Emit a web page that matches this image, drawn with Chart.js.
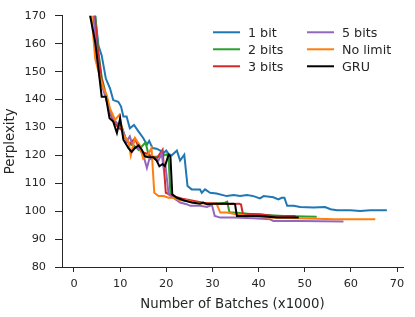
<!DOCTYPE html>
<html>
<head>
<meta charset="utf-8">
<script src="https://cdn.jsdelivr.net/npm/chart.js@4.4.1/dist/chart.umd.min.js"></script>
<style>
  html, body { margin: 0; padding: 0; background: #fff; }
  #wrap { width: 415px; height: 317px; }
</style>
</head>
<body>
<div id="wrap"><canvas id="perplexityChart" width="415" height="317"></canvas></div>
<script>
// values: [batches (x1000), perplexity]
const oneBit = [[3.8,180],[4.6,170],[5.3,159.3],[6.0,155.8],[6.9,147.5],[7.8,144],[8.5,139.8],[9.6,139.2],[10.2,137.5],[10.7,133.9],[11.4,133.9],[12.1,129.7],[13.0,130.9],[14.0,128.5],[15.0,126.2],[15.8,123.8],[16.3,125.2],[17.0,122.6],[17.9,122.4],[18.7,121.7],[19.4,120.8],[20.0,121.7],[20.5,120.5],[21.2,120],[22.3,121.7],[23.0,118.1],[23.9,120.2],[24.6,109],[25.5,107.8],[27.3,107.8],[27.7,106.6],[28.4,107.8],[29.5,106.6],[30.9,106.3],[33.1,105.4],[34.6,105.8],[36.0,105.4],[37.5,105.8],[38.9,105.4],[40.3,104.6],[41.1,105.4],[43.2,105],[44.3,104.2],[45.0,104.8],[45.6,104.8],[46.2,101.9],[47.6,101.9],[49.0,101.5],[51.9,101.3],[54.4,101.5],[55.6,100.7],[57.0,100.3],[59.9,100.3],[62.0,100.1],[64.2,100.3],[67.8,100.3]];
const twoBits = [[3.8,180],[4.6,170],[5.3,157],[6.0,148],[6.9,142],[7.8,136],[8.7,132],[9.6,131],[10.4,130],[11.2,126],[12.0,124],[13.0,123.5],[14.0,122],[15.5,124.6],[16.2,120],[17.2,119.5],[18.7,119.5],[20.1,120.4],[20.5,119],[20.9,106],[22.0,104.8],[23.5,104],[25.5,103.4],[27.5,103],[30.0,102.7],[32.5,102.9],[33.2,103.4],[33.7,99.5],[34.6,99.5],[38.9,98.9],[45.4,98.3],[52.6,98]];
const threeBits = [[3.8,180],[4.5,170],[5.2,157],[6.0,147],[6.9,141],[7.8,135],[8.7,132],[9.6,130],[10.4,129],[11.2,126],[12.0,124],[13.2,126],[14.0,123],[15.0,121],[16.0,120.5],[17.0,119.5],[18.0,119],[19.2,122],[19.9,106.6],[21.5,105.4],[23.5,104.5],[25.5,103.8],[28.0,103],[31.0,102.7],[34.0,102.6],[35.8,102.7],[36.2,102.4],[36.6,99.1],[40.3,98.9],[43.2,98.3],[48.0,98.3]];
const fiveBits = [[3.4,180],[4.2,170],[4.9,157],[5.6,147.5],[6.7,141.6],[7.8,135.6],[8.5,133.3],[9.6,130.9],[10.3,130.3],[11.4,125],[12.1,126.8],[12.9,122.6],[14.0,122.6],[15.0,120.2],[15.8,115.5],[16.3,118.5],[17.2,119],[18.3,118.1],[19.0,120.8],[19.4,115.7],[19.8,116.7],[20.5,106],[21.5,104.8],[23.0,103.1],[24.4,102.5],[25.2,101.9],[27.3,101.9],[28.8,101.5],[29.9,102.2],[30.5,98.3],[31.7,97.7],[34.6,97.7],[38.9,97.5],[42.5,97.1],[43.2,96.5],[49.0,96.5],[58.4,96.3]];
const noLimit = [[3.2,180],[3.8,170],[4.6,154.6],[5.3,150],[6.4,144],[7.1,141.6],[7.8,136.8],[8.9,132.7],[9.8,134.5],[10.7,127.3],[11.8,125],[12.3,120],[13.2,126.2],[14.2,123.8],[15.0,118.8],[16.1,120.5],[16.8,122.6],[17.4,106.6],[18.3,105.4],[19.4,105.4],[20.5,104.8],[21.5,104.8],[23.0,103.9],[24.4,103.9],[25.9,103.1],[28.8,102.7],[30.9,102.7],[31.7,99.5],[33.1,99.5],[34.6,99.1],[37.5,98.3],[41.8,97.7],[49.0,97.5],[56.3,97.1],[65.3,97.1]];
const gru = [[3.0,180],[3.5,170],[4.6,160.5],[5.3,151],[6.0,141],[6.9,141],[7.7,133.3],[8.5,132.1],[9.3,128],[10.0,133.3],[10.7,125.6],[11.8,122.6],[12.5,121.2],[13.2,122.6],[14.0,123.6],[14.7,122],[15.4,119.6],[16.1,119.3],[17.2,119.3],[17.9,118.1],[18.5,116.1],[19.2,116.9],[19.7,116.1],[20.5,120.2],[20.9,119.6],[21.3,106],[22.3,104.8],[23.7,103.9],[25.5,103.1],[27.3,102.7],[28.0,103.1],[28.8,102.5],[30.2,102.7],[31.7,102.7],[34.6,102.7],[34.9,102.5],[35.3,98.3],[36.7,98.3],[40.3,98.3],[44.0,97.7],[48.7,97.7]];

const seriesLabels = ['1 bit', '2 bits', '3 bits', '5 bits', 'No limit', 'GRU'];
const seriesData = [oneBit, twoBits, threeBits, fiveBits, noLimit, gru];
const seriesColors = ['#1f77b4', '#2ca02c', '#d62728', '#9467bd', '#ff7f0e', '#000000'];

const xTicks = [0, 10, 20, 30, 40, 50, 60, 70];
const yTicks = [80, 90, 100, 110, 120, 130, 140, 150, 160, 170];

const textColor = '#262626';
const fontFamily = '"DejaVu Sans", sans-serif';

// two-column legend, column-major like the original
const columnLegend = {
    id: 'columnLegend',
    afterDraw(chart) {
        const ctx = chart.ctx;
        const area = chart.chartArea;
        ctx.save();
        ctx.font = '12.7px ' + fontFamily;
        ctx.textBaseline = 'middle';
        seriesLabels.forEach((label, i) => {
            const col = Math.floor(i / 3);
            const row = i % 3;
            const x = area.left + 151 + col * 94;
            const y = area.top + 16.5 + row * 17;
            ctx.strokeStyle = seriesColors[i];
            ctx.lineWidth = 2;
            ctx.beginPath();
            ctx.moveTo(x, y);
            ctx.lineTo(x + 27, y);
            ctx.stroke();
            ctx.fillStyle = textColor;
            ctx.fillText(label, x + 35, y + 1);
        });
        ctx.restore();
    }
};

const datasets = seriesData.map((pts, i) => ({
    label: seriesLabels[i],
    data: pts.map(p => ({ x: p[0], y: p[1] })),
    borderColor: seriesColors[i],
    backgroundColor: seriesColors[i],
    borderWidth: 2,
    pointRadius: 0,
    showLine: true,
    tension: 0,
    order: seriesData.length - i
}));

const ctx = document.getElementById('perplexityChart').getContext('2d');
new Chart(ctx, {
    type: 'scatter',
    data: { datasets: datasets },
    options: {
        responsive: false,
        animation: false,
        layout: { padding: { left: 0, top: 13, right: 12, bottom: 0 } },
        plugins: {
            legend: { display: false },
            tooltip: { enabled: false }
        },
        scales: {
            x: {
                type: 'linear',
                min: -2.6,
                max: 71.3,
                afterFit: axis => { axis.height = 50; },
                afterBuildTicks: axis => { axis.ticks = xTicks.map(v => ({ value: v })); },
                border: { display: true, color: textColor, width: 1 },
                grid: { drawOnChartArea: false, drawTicks: true, tickLength: 5, color: textColor },
                ticks: { color: textColor, padding: 5, maxRotation: 0, font: { family: fontFamily, size: 11.3 } },
                title: { display: true, text: 'Number of Batches (x1000)', color: textColor, padding: { top: 0, bottom: 4 }, font: { family: fontFamily, size: 13.3 } }
            },
            y: {
                type: 'linear',
                min: 80,
                max: 170,
                afterFit: axis => { axis.width = 62; },
                afterBuildTicks: axis => { axis.ticks = yTicks.map(v => ({ value: v })); },
                border: { display: true, color: textColor, width: 1 },
                grid: { drawOnChartArea: false, drawTicks: true, tickLength: 7, color: textColor },
                ticks: { color: textColor, padding: 9, font: { family: fontFamily, size: 11.3 } },
                title: { display: true, text: 'Perplexity', color: textColor, padding: { top: 3, bottom: 0 }, font: { family: fontFamily, size: 13.3 } }
            }
        }
    },
    plugins: [columnLegend]
});
</script>
</body>
</html>
